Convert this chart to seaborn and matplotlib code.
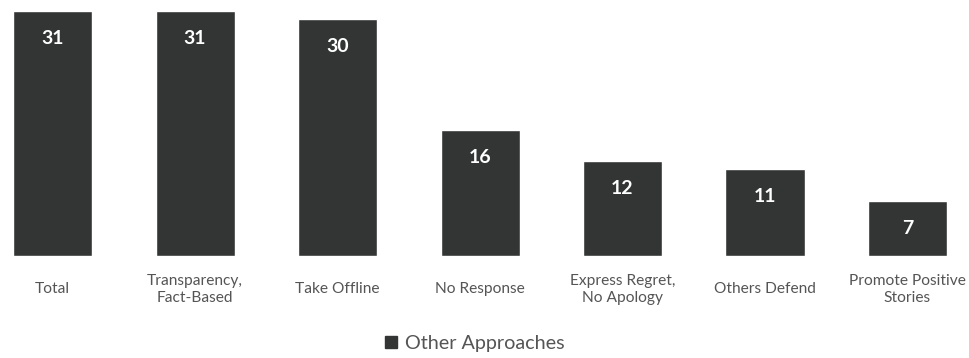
import matplotlib
matplotlib.use("Agg")
import matplotlib.pyplot as plt
from matplotlib.lines import Line2D
import seaborn as sns
import pandas as pd

categories = ["Total", "Transparency,\nFact-Based", "Take Offline", "No Response",
              "Express Regret,\nNo Apology", "Others Defend", "Promote Positive\nStories"]
values = [31, 31, 30, 16, 12, 11, 7]
series_name = "Other Approaches"

BAR = "#333535"
TXT = "#555555"

sns.set_theme(style="white")
plt.rcParams["font.family"] = ["Lato", "DejaVu Sans"]

df = pd.DataFrame({"category": categories, "value": values, "series": series_name})

fig = plt.figure(figsize=(9.69, 3.58), dpi=100)
ax = fig.add_axes([0, (358 - 256) / 358, 1, (256 - 11) / 358])
sns.barplot(data=df, x="category", y="value", color=BAR, width=79 / 142.5,
            saturation=1, ax=ax, legend=False)

ax.set_xlim(-52.5 / 142.5, (969 - 52.5) / 142.5)
ax.set_ylim(0, 31)
ax.set_yticks([])
ax.set_xlabel("")
ax.set_ylabel("")
for s in ax.spines.values():
    s.set_visible(False)

ax.tick_params(axis="x", length=0, pad=24, labelsize=11.2, labelcolor=TXT)
for lab in ax.get_xticklabels():
    lab.set_verticalalignment("center")
    lab.set_linespacing(1.25)

for i, v in enumerate(values):
    ax.annotate(str(v), xy=(i, v), xytext=(0, -20), textcoords="offset points",
                ha="center", va="center", color="white", fontsize=14, fontweight="bold")

handle = Line2D([], [], marker="s", linestyle="none", markersize=8.5,
                markerfacecolor=BAR, markeredgecolor=BAR)
fig.legend([handle], [series_name], loc="center", bbox_to_anchor=(474 / 969, 15 / 358),
           frameon=False, fontsize=14.2, handletextpad=0.3, labelcolor=TXT,
           handlelength=0.8)

fig.savefig("out.png", dpi=100)
